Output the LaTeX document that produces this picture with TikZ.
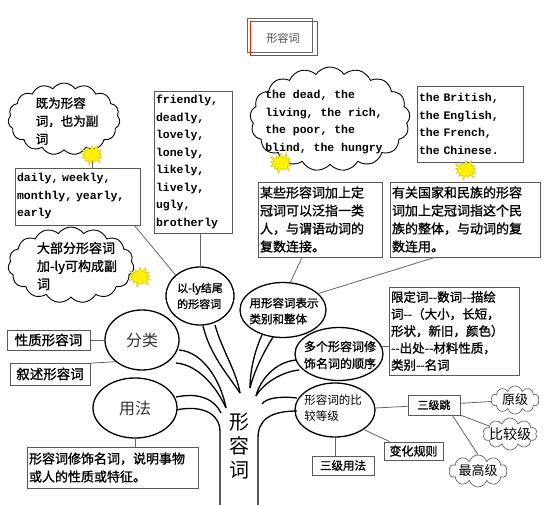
\documentclass[tikz,border=0pt]{standalone}
\usepackage{fontspec}
\setmainfont{Liberation Sans}
\setmonofont{Liberation Mono}
\newfontfamily\cjk{Noto Sans CJK SC}
\newfontfamily\cjkb{Noto Sans CJK SC}[FakeBold=1.2]
\usetikzlibrary{calc,shapes.geometric,shapes.symbols}

\begin{document}
\begin{tikzpicture}[x=1pt,y=-1pt,
    doboz/.style={draw=black!65,line width=0.9pt,inner sep=2pt,align=left},
    angol/.style={font=\ttfamily\bfseries\fontsize{11.5}{17.5}\selectfont},
    kinai/.style={font=\cjkb\fontsize{13}{18}\selectfont},
    ellipszis/.style={draw,ellipse,line width=1.3pt,inner sep=0pt},
    felho/.style={draw,cloud,cloud puffs=15,cloud puff arc=110,cloud ignores aspect,line width=0.9pt,inner sep=0pt},
    kisfelho/.style={draw=black!60,cloud,cloud puffs=10,cloud ignores aspect,line width=0.7pt,inner sep=0pt},
    csillag/.style={starburst,starburst points=13,starburst point height=6pt,fill=yellow,draw=yellow!55!olive,minimum width=27pt,minimum height=23pt,inner sep=0pt},
    ag/.style={line width=1.3pt},
    vonal/.style={draw=black!60,line width=0.8pt}]

    \fill[white] (0,0) rectangle (554,505);
    \useasboundingbox (0,0) rectangle (554,505);

    % cim
    \draw[black!60] (247,18) rectangle (312,52);
    \draw[red!65!orange!90!black] (250,21) rectangle (317,55);
    \node[font=\cjk\fontsize{11}{13}\selectfont,text=black!70] (cim) at (283,38) {形容词};

    % felhok
    \node[felho,minimum width=112pt,minimum height=72pt] (felhoA) at (64,119) {};
    \node[kinai,font=\cjkb\fontsize{12.5}{18}\selectfont,align=left] (szovegA) at (67,121) {既为形容\\词，也为副\\词};
    \node[felho,cloud puffs=17,minimum width=160pt,minimum height=104pt] (felhoB) at (330,119) {};
    \node[angol,align=left] (szovegB) at (324,122) {the dead, the\\living, the rich,\\the poor, the\\blind, the hungry};
    \node[felho,minimum width=126pt,minimum height=76pt] (felhoC) at (71,265) {};
    \node[kinai,align=left] (szovegC) at (77,266) {大部分形容词\\加-ly可构成副\\词};

    % dobozok fent
    \node[doboz,angol,text width=121pt,minimum height=57pt] (dobozA) at (77.5,196.5) {daily, weekly,\\monthly, yearly,\\early};
    \node[doboz,angol,text width=74pt,minimum height=142pt] (dobozB) at (193,162) {friendly,\\deadly,\\lovely,\\lonely,\\likely,\\lively,\\ugly,\\brotherly};
    \node[doboz,angol,text width=102pt,minimum height=76pt] (dobozC) at (470,124) {the British,\\the English,\\the French,\\the Chinese.};
    \node[doboz,kinai,text width=146pt,minimum height=75pt] (dobozD) at (465,219.5) {有关国家和民族的形容\\词加上定冠词指这个民\\族的整体，与动词的复\\数连用。};
    \node[doboz,kinai,text width=120pt,minimum height=75pt] (dobozE) at (320,219.5) {某些形容词加上定\\冠词可以泛指一类\\人，与谓语动词的\\复数连接。};

    % csillagok
    \node[csillag] (csillagA) at (92,155) {};
    \node[csillag] (csillagB) at (281,163) {};
    \node[csillag] (csillagC) at (466,170) {};
    \node[csillag] (csillagD) at (140,277) {};
    \draw[vonal] (csillagA.south) -- (csillagA.south |- dobozA.north);

    % ellipszisek
    \node[ellipszis,minimum width=68pt,minimum height=58pt] (ellipszisA) at (200,296) {};
    \node[font=\cjkb\fontsize{11}{16}\selectfont,align=left] (feliratA) at (200,296) {以-ly结尾\\的形容词};
    \node[ellipszis,minimum width=86pt,minimum height=55pt] (ellipszisB) at (283,310) {};
    \node[font=\cjkb\fontsize{11.5}{16}\selectfont,align=left] (feliratB) at (284,311) {用形容词表示\\类别和整体};
    \node[ellipszis,minimum width=88pt,minimum height=53pt] (ellipszisC) at (339,354) {};
    \node[font=\cjkb\fontsize{12}{17}\selectfont,align=left] (feliratC) at (340,355) {多个形容词修\\饰名词的顺序};
    \node[ellipszis,minimum width=74pt,minimum height=60pt] (ellipszisD) at (142,340) {};
    \node[font=\cjk\fontsize{16}{18}\selectfont,text=black!80] (feliratD) at (142,340) {分类};
    \node[ellipszis,minimum width=84pt,minimum height=60pt] (ellipszisE) at (135,408) {};
    \node[font=\cjk\fontsize{16}{18}\selectfont,text=black!80] (feliratE) at (135,408) {用法};
    \node[ellipszis,minimum width=80pt,minimum height=54pt] (ellipszisF) at (335,410) {};
    \node[font=\cjk\fontsize{11.5}{16}\selectfont,align=left] (feliratF) at (333,408) {形容词的比\\较等级};

    % dobozok lent
    \node[doboz,font=\cjkb\fontsize{12.5}{17}\selectfont,text width=126pt,minimum height=88pt] (dobozF) at (454,331) {限定词--数词--描绘\\词--（大小，长短，\\形状，新旧，颜色）\\--出处--材料性质，\\类别--名词};
    \node[doboz,font=\cjkb\fontsize{13.5}{15}\selectfont,minimum width=83pt,minimum height=20pt] (dobozG) at (48.5,340) {性质形容词};
    \node[doboz,font=\cjkb\fontsize{13.5}{15}\selectfont,minimum width=80pt,minimum height=22pt] (dobozH) at (50,374) {叙述形容词};
    \node[doboz,kinai,text width=167pt,minimum height=41pt] (dobozI) at (112.5,467.5) {形容词修饰名词，说明事物\\或人的性质或特征。};
    \node[doboz,font=\cjkb\fontsize{11}{13}\selectfont,minimum width=52pt,minimum height=20pt] (dobozJ) at (434,405) {三级跳};
    \node[doboz,font=\cjkb\fontsize{12}{14}\selectfont,minimum width=59pt,minimum height=18pt] (dobozK) at (413.5,451) {变化规则};
    \node[doboz,font=\cjkb\fontsize{11.5}{14}\selectfont,minimum width=62pt,minimum height=19pt] (dobozL) at (343,465.5) {三级用法};

    % kis felhok
    \node[kisfelho,minimum width=48pt,minimum height=28pt] (felhoD) at (515,400) {};
    \node[font=\cjk\fontsize{13}{15}\selectfont] (szovegD) at (515,400) {原级};
    \node[kisfelho,minimum width=54pt,minimum height=32pt] (felhoE) at (510,434) {};
    \node[font=\cjk\fontsize{14}{16}\selectfont] (szovegE) at (510,434) {比较级};
    \node[kisfelho,minimum width=58pt,minimum height=32pt] (felhoF) at (478,471) {};
    \node[font=\cjk\fontsize{13}{15}\selectfont] (szovegF) at (478,471) {最高级};

    % torzs
    \node[font=\cjk\fontsize{20}{24}\selectfont,align=center] (torzs) at (239,446) {形\\容\\词};

    % vonalak
    \draw[vonal] (dobozB.south -| ellipszisA.north) -- (ellipszisA.north);
    \draw[vonal] ($(dobozA.south east)+(-6,0)$) -- (ellipszisA.north west);
    \draw[vonal] ($(dobozE.south)+(-18,0)$) -- (ellipszisB.75);
    \draw[vonal] (ellipszisB.25) -- ($(dobozD.south west)+(45,0)$);
    \draw[vonal] (ellipszisC.10) -- (ellipszisC.10 -| dobozF.west);
    \draw[vonal] (dobozG) -- (ellipszisD);
    \draw[vonal] (dobozH.15) -- (ellipszisD.south west);
    \draw[vonal] (ellipszisE.south) -- (ellipszisE.south |- dobozI.north);
    \draw[vonal] (ellipszisF) -- (dobozJ);
    \draw[vonal] (ellipszisF.south east) -- ($(dobozK.north west)+(6,0)$);
    \draw[vonal] (ellipszisF.south) -- (ellipszisF.south |- dobozL.north);
    \draw[vonal] (dobozJ) -- (felhoD);
    \draw[vonal] (dobozJ) -- (felhoE);
    \draw[vonal] ($(dobozJ.south east)+(-8,0)$) -- (felhoF.north);

    % agak
    \draw[ag] (203,326) .. controls (210,355) and (228,375) .. (240,393);
    \draw[ag] (215,325) .. controls (222,350) and (236,370) .. (240,393);
    \draw[ag] (179,350) .. controls (205,352) and (222,385) .. (226,408);
    \draw[ag] (176,363) .. controls (200,365) and (218,390) .. (226,408);
    \draw[ag] (176,397) .. controls (200,392) and (215,400) .. (221,413);
    \draw[ag] (176,410) .. controls (200,405) and (220,412) .. (220,432) -- (220,505);
    \draw[ag] (262,335) .. controls (255,350) and (250,370) .. (250,388);
    \draw[ag] (273,337) .. controls (262,355) and (254,372) .. (250,388);
    \draw[ag] (296,360) .. controls (275,362) and (260,380) .. (256,396);
    \draw[ag] (299,370) .. controls (280,372) and (262,385) .. (256,396);
    \draw[ag] (297,398) .. controls (280,396) and (266,398) .. (262,404);
    \draw[ag] (297,411) .. controls (270,411) and (258,420) .. (258,438) -- (258,505);

\end{tikzpicture}
\end{document}
